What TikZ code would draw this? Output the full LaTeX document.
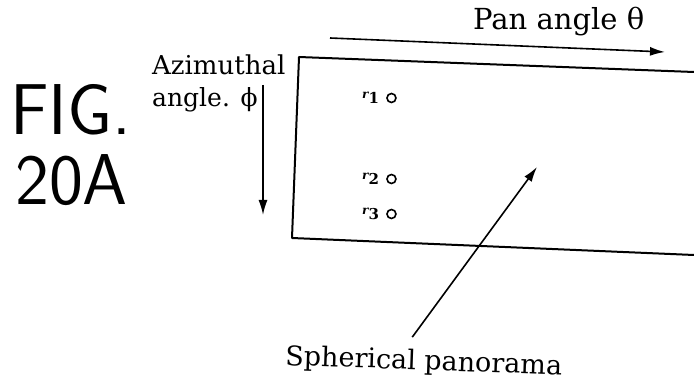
\documentclass[tikz,border=0pt]{standalone}
\usepackage{fontspec}
\newfontfamily\labelfont{DejaVu Serif}
\usetikzlibrary{arrows.meta,positioning}
\begin{document}
\begin{tikzpicture}[
  x=1pt,y=-1pt,
  lbl/.style={font=\labelfont\fontsize{26}{30}\selectfont,inner sep=0pt},
  hand/.style={font=\sffamily\fontsize{72}{76}\selectfont,inner sep=0pt},
  sub/.style={font=\labelfont\fontsize{15}{16}\selectfont\bfseries,inner sep=0pt},
  spot/.style={draw,circle,line width=1.6pt,minimum size=9pt,inner sep=0pt},
  arr/.style={-{Latex[length=15pt,width=9pt]},line width=1.6pt},
  frame/.style={line width=2pt,line join=round}
]
\useasboundingbox (0,0) rectangle (694,387);
\node[hand,anchor=base west] (fig) at (10,135) {FIG.};
\node[hand,anchor=base west] (num) at (15,205) {20A};
\node[lbl,anchor=base west] (azi) at (152,75) {Azimuthal};
\node[lbl,anchor=base west,font=\labelfont\fontsize{25}{30}\selectfont] (phi) at (152,107) {angle. ϕ};
\node[lbl,anchor=base west,font=\labelfont\fontsize{29}{32}\selectfont] (pan) at (473,30) {Pan angle θ};
\node[lbl,anchor=base west,rotate=-2,font=\labelfont\fontsize{27}{30}\selectfont] (sph) at (285,365) {Spherical panorama};
\coordinate (tl) at (299,57);
\coordinate (tr) at (694,72);
\coordinate (bl) at (292,238);
\coordinate (br) at (694,255);
\draw[frame] (tr) -- (tl) -- (bl) -- (br);
\node[sub,anchor=west] (r1) at (362,98) {\raisebox{5pt}{\fontsize{12}{12}\selectfont\itshape r}1};
\node[sub,anchor=west] (r2) at (362,179) {\raisebox{5pt}{\fontsize{12}{12}\selectfont\itshape r}2};
\node[sub,anchor=west] (r3) at (362,214) {\raisebox{5pt}{\fontsize{12}{12}\selectfont\itshape r}3};
\node[spot,right=7pt of r1] (p1) {};
\node[spot,right=7pt of r2] (p2) {};
\node[spot,right=7pt of r3] (p3) {};
\coordinate (pa) at (330,38);
\coordinate (pb) at (665,52);
\draw[arr] (pa) -- (pb);
\coordinate (aa) at (263,85);
\coordinate (ab) at (263,215);
\draw[arr] (aa) -- (ab);
\coordinate (tip) at (537,167);
\draw[arr] ([shift={(-12,-12)}]sph.north) -- (tip);
\end{tikzpicture}
\end{document}
